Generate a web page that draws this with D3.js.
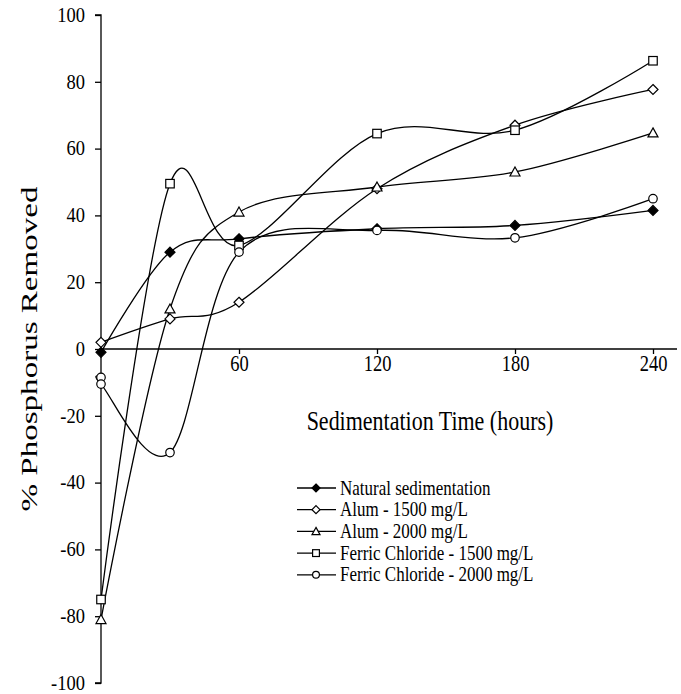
<!DOCTYPE html>
<html>
<head>
<meta charset="utf-8">
<script src="https://cdn.jsdelivr.net/npm/d3@7"></script>
<style>
  html, body { margin: 0; padding: 0; background: #fff; }
  svg { display: block; }
  svg text { font-family: "Liberation Serif", "Times New Roman", Times, "DejaVu Serif", serif !important; fill: #000; }
</style>
</head>
<body>
<svg id="chart" width="681" height="694"></svg>
<script>
// ---- data ----
const hours = [0, 30, 60, 120, 180, 240];
const natural = [-1, 29, 33, 36, 37, 41.5];
const alum1500 = [2, 9, 14, 48, 67, 77.7];
const alum2000 = [-81, 12, 41, 48.5, 53, 64.7];
const ferric1500 = [-75, 49.5, 31, 64.5, 65.5, 86.3];
const ferric2000Hours = [0, 0, 30, 60, 120, 180, 240];
const ferric2000 = [-8.5, -10.5, -31, 29, 35.5, 33.3, 45];
const seriesNames = ["Natural sedimentation", "Alum - 1500 mg/L", "Alum - 2000 mg/L",
                     "Ferric Chloride - 1500 mg/L", "Ferric Chloride - 2000 mg/L"];
const xTicks = [60, 120, 180, 240];
const yTicks = [-100, -80, -60, -40, -20, 0, 20, 40, 60, 80, 100];

const FONT = '"Liberation Serif", "Times New Roman", Times, "DejaVu Serif", serif';
const SY = 1.2; // vertical stretch of the original figure's lettering

const series = [
  { name: seriesNames[0], xs: hours, ys: natural, marker: "diamond", fill: "#000" },
  { name: seriesNames[1], xs: hours, ys: alum1500, marker: "diamond", fill: "#fff" },
  { name: seriesNames[2], xs: hours, ys: alum2000, marker: "triangle", fill: "#fff" },
  { name: seriesNames[3], xs: hours, ys: ferric1500, marker: "square", fill: "#fff" },
  { name: seriesNames[4], xs: ferric2000Hours, ys: ferric2000, marker: "circle", fill: "#fff" }
];

const svg = d3.select("#chart");
const x = d3.scaleLinear().domain([0, 240]).range([101, 653]);
const y = d3.scaleLinear().domain([-100, 100]).range([683, 15]);

// y axis
const yAxis = d3.axisLeft(y).tickValues(yTicks).tickSize(6).tickPadding(10).tickFormat(d => String(d));
const gy = svg.append("g").attr("transform", `translate(${x(0)},0)`).call(yAxis);
gy.attr("font-family", null);
gy.select(".domain").attr("stroke", "#000").attr("stroke-width", 1.3).attr("d", `M-6,${y(100)}H0V${y(-100)}H-6`);
gy.selectAll(".tick line").attr("stroke", "#000").attr("stroke-width", 1.3);
gy.selectAll(".tick text").attr("font-size", 18.5).style("font-family", FONT)
  .attr("dy", "0.3em").attr("transform", `scale(1,1.12)`);

// x axis
const xAxis = d3.axisBottom(x).tickValues(xTicks).tickSize(5).tickPadding(4).tickFormat(d => String(d));
const gx = svg.append("g").attr("transform", `translate(0,${y(0)})`).call(xAxis);
gx.attr("font-family", null);
gx.select(".domain").attr("stroke", "#000").attr("stroke-width", 1.3).attr("d", `M${x(0)},0H677`);
gx.selectAll(".tick line").attr("stroke", "#000").attr("stroke-width", 1.3);
gx.selectAll(".tick text").attr("font-size", 18.5).style("font-family", FONT)
  .attr("y", 4.8).attr("transform", `scale(1,${SY})`);

// titles
svg.append("text").attr("transform", `translate(430,430) scale(1,${SY})`).attr("text-anchor", "middle")
  .attr("font-size", 22).style("font-family", FONT).text("Sedimentation Time (hours)");
svg.append("text").attr("transform", `translate(37,${y(0)}) rotate(-90)`).attr("text-anchor", "middle")
  .attr("font-size", 22.5).style("font-family", FONT)
  .attr("textLength", 325).attr("lengthAdjust", "spacingAndGlyphs")
  .text("% Phosphorus Removed");

// markers
function drawMarker(g, type, cx, cy, fill, s) {
  if (type === "diamond") {
    g.append("path").attr("d", `M${cx},${cy - s}L${cx + s},${cy}L${cx},${cy + s}L${cx - s},${cy}Z`)
      .attr("fill", fill).attr("stroke", "#000").attr("stroke-width", 1.2);
  } else if (type === "triangle") {
    g.append("path").attr("d", `M${cx},${cy - s}L${cx + s},${cy + s * 0.8}L${cx - s},${cy + s * 0.8}Z`)
      .attr("fill", fill).attr("stroke", "#000").attr("stroke-width", 1.2);
  } else if (type === "square") {
    g.append("rect").attr("x", cx - s * 0.85).attr("y", cy - s * 0.85).attr("width", s * 1.7).attr("height", s * 1.7)
      .attr("fill", fill).attr("stroke", "#000").attr("stroke-width", 1.2);
  } else {
    g.append("circle").attr("cx", cx).attr("cy", cy).attr("r", s * 0.85)
      .attr("fill", fill).attr("stroke", "#000").attr("stroke-width", 1.2);
  }
}

const line = d3.line().curve(d3.curveCardinal.tension(0));
const plot = svg.append("g");
series.forEach(s => {
  const pts = s.xs.map((h, i) => [x(h), y(s.ys[i])]);
  plot.append("path").attr("d", line(pts)).attr("fill", "none").attr("stroke", "#000").attr("stroke-width", 1.3);
});
series.forEach(s => {
  const g = plot.append("g");
  s.xs.forEach((h, i) => drawMarker(g, s.marker, x(h), y(s.ys[i]), s.fill, 5));
});

// legend
const legend = svg.append("g");
series.forEach((s, i) => {
  const ly = 488 + i * 21.7;
  legend.append("line").attr("x1", 297).attr("x2", 336).attr("y1", ly).attr("y2", ly)
    .attr("stroke", "#000").attr("stroke-width", 1.3);
  drawMarker(legend, s.marker, 316, ly, s.fill, 4);
  legend.append("text").attr("transform", `translate(340,${ly + 6.5}) scale(1,${SY})`)
    .attr("font-size", 17).style("font-family", FONT).text(s.name);
});
</script>
</body>
</html>
